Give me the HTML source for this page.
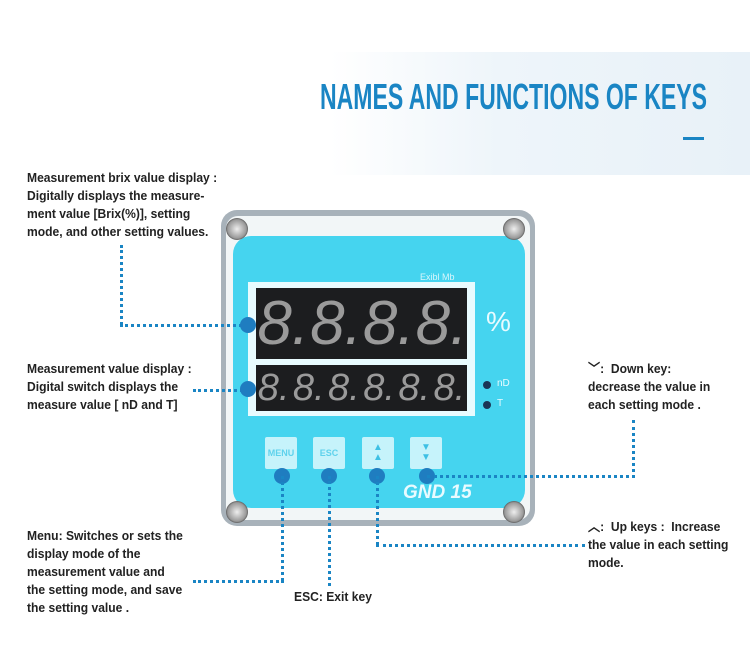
<!DOCTYPE html>
<html><head><meta charset="utf-8"><style>
body{margin:0;width:750px;height:656px;background:#fff;position:relative;overflow:hidden;font-family:"Liberation Sans",sans-serif}
.band{position:absolute;left:330px;top:52px;width:420px;height:123px;background:linear-gradient(90deg,#fff 0%,#eef5fa 40%,#e8f1f8 100%)}
.title{position:absolute;left:320px;top:76px;font-size:36px;font-weight:bold;color:#1a85c4;white-space:nowrap;transform:scaleX(0.64);transform-origin:left top}
.dash{position:absolute;left:683px;top:137px;width:21px;height:3px;background:#1a85c4}
.t{position:absolute;font-size:13px;font-weight:bold;color:#222;line-height:18px;white-space:nowrap;transform:scaleX(0.93);transform-origin:left top}
.dl{position:absolute;border:0 dotted #1a85c4}
.h{border-top-width:3px}.v{border-left-width:3px}
.dot{position:absolute;width:16px;height:16px;border-radius:50%;background:#1f7dc0}
.btn{position:absolute;width:32px;height:32px;background:#c6f3fb;border-radius:2px;color:#5fd2ec;font:bold 9px "Liberation Sans",sans-serif;display:flex;align-items:center;justify-content:center}
.screw{position:absolute;width:22px;height:22px;border-radius:50%;background:radial-gradient(#eee,#999 60%,#444 75%,#666);}
.disp{position:absolute;background:#1c1d1f;display:flex;justify-content:space-around;align-items:center;overflow:hidden;color:#9a9a9a;font-family:"Liberation Sans",sans-serif;font-style:italic}
.disp span{display:block;overflow:hidden;text-align:center}
</style></head><body>
<div class="band"></div>
<div class="title">NAMES AND FUNCTIONS OF KEYS</div>
<div class="dash"></div>

<div style="position:absolute;left:221px;top:210px;width:314px;height:316px;border-radius:16px;background:#a8b2ba"></div>
<div style="position:absolute;left:226px;top:216px;width:304px;height:304px;border-radius:12px;background:#f2f6f7"></div>
<div style="position:absolute;left:233px;top:236px;width:292px;height:272px;border-radius:18px;background:#45d4ef"></div>
<div class="screw" style="left:226px;top:218px"></div>
<div class="screw" style="left:503px;top:218px"></div>
<div class="screw" style="left:226px;top:501px"></div>
<div class="screw" style="left:503px;top:501px"></div>
<div style="position:absolute;left:420px;top:272px;font:9px 'Liberation Sans',sans-serif;color:#d8f6fc">Exibl Mb</div>
<div style="position:absolute;left:248px;top:282px;width:227px;height:134px;background:#e8fbfe"></div>
<div class="disp" style="left:256px;top:288px;width:211px;height:71px;font-size:62px;line-height:71px">
<span style="width:50px">8.</span><span style="width:50px">8.</span><span style="width:50px">8.</span><span style="width:50px">8.</span></div>
<div class="disp" style="left:256px;top:365px;width:211px;height:46px;font-size:38px;line-height:46px">
<span style="width:34px">8.</span><span style="width:34px">8.</span><span style="width:34px">8.</span><span style="width:34px">8.</span><span style="width:34px">8.</span><span style="width:34px">8.</span></div>
<div style="position:absolute;left:486px;top:306px;font:28px 'Liberation Sans',sans-serif;color:#e8fbff">%</div>
<div class="dot" style="left:483px;top:381px;width:8px;height:8px;background:#1a3555"></div>
<div class="dot" style="left:483px;top:401px;width:8px;height:8px;background:#1a3555"></div>
<div style="position:absolute;left:497px;top:378px;font:10px 'Liberation Sans',sans-serif;color:#e8fbff">nD</div>
<div style="position:absolute;left:497px;top:398px;font:10px 'Liberation Sans',sans-serif;color:#e8fbff">T</div>
<div class="btn" style="left:265px;top:437px">MENU</div>
<div class="btn" style="left:313px;top:437px">ESC</div>
<div class="btn" style="left:362px;top:437px;font-size:10px;line-height:10px;flex-direction:column;color:#3ec0e4">▲<br>▲</div>
<div class="btn" style="left:410px;top:437px;font-size:10px;line-height:10px;flex-direction:column;color:#3ec0e4">▼<br>▼</div>
<div style="position:absolute;left:403px;top:482px;font:italic bold 19px 'Liberation Sans',sans-serif;color:#e8fbff">GND 15</div>

<div class="dl v" style="left:120px;top:245px;height:80px"></div>
<div class="dl h" style="left:120px;top:324px;width:128px"></div>
<div class="dot" style="left:240px;top:317px"></div>
<div class="dl h" style="left:193px;top:389px;width:55px"></div>
<div class="dot" style="left:240px;top:381px"></div>

<div class="dot" style="left:274px;top:468px"></div>
<div class="dl v" style="left:281px;top:476px;height:105px"></div>
<div class="dl h" style="left:193px;top:580px;width:91px"></div>
<div class="dot" style="left:321px;top:468px"></div>
<div class="dl v" style="left:328px;top:476px;height:110px"></div>
<div class="dot" style="left:369px;top:468px"></div>
<div class="dl v" style="left:376px;top:476px;height:69px"></div>
<div class="dl h" style="left:376px;top:544px;width:209px"></div>
<div class="dot" style="left:419px;top:468px"></div>
<div class="dl h" style="left:427px;top:475px;width:208px"></div>
<div class="dl v" style="left:632px;top:420px;height:58px"></div>

<div class="t" style="left:27px;top:169px">Measurement brix value display :<br>Digitally displays the measure-<br>ment value [Brix(%)], setting<br>mode, and other setting values.</div>
<div class="t" style="left:27px;top:360px">Measurement value display :<br>Digital switch displays the<br>measure value [ nD and T]</div>
<div class="t" style="left:27px;top:527px">Menu: Switches or sets the<br>display mode of the<br>measurement value and<br>the setting mode, and save<br>the setting value .</div>
<div class="t" style="left:294px;top:588px">ESC: Exit key</div>
<div class="t" style="left:588px;top:360px">﹀:&nbsp; Down key:<br>decrease the value in<br>each setting mode .</div>
<div class="t" style="left:588px;top:518px">︿:&nbsp; Up keys :&nbsp; Increase<br>the value in each setting<br>mode.</div>
</body></html>
